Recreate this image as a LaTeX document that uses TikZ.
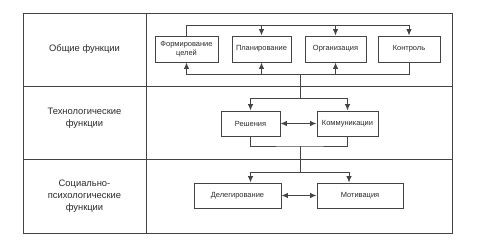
\documentclass[tikz,border=0pt]{standalone}
\usepackage{fontspec}
\setmainfont{Liberation Sans}
\usetikzlibrary{arrows.meta}
\definecolor{ln}{HTML}{444444}
\definecolor{tx}{HTML}{2A2A2A}
\tikzset{
  box/.style={draw=ln, line width=0.95bp, inner sep=0pt, align=center, text=tx,
    font=\fontsize{7.5}{9.3}\selectfont},
  lab/.style={align=center, text=tx, font=\fontsize{9.4}{11.8}\selectfont},
  conn/.style={draw=ln, line width=0.95bp},
  arr/.style={conn, -{Latex[length=6.5bp,width=5.5bp]}},
  arrtwo/.style={conn, {Latex[length=6.5bp,width=5.5bp]}-{Latex[length=6.5bp,width=5.5bp]}},
  frame/.style={draw=ln, line width=0.95bp}
}
\begin{document}
\begin{tikzpicture}[x=1bp,y=-1bp]
\useasboundingbox (0,0) rectangle (477,251);
% table frame
\draw[frame] (23,13) rectangle (452,233);
\draw[frame] (146,13) -- (146,233);
\draw[frame] (23,86) -- (452,86);
\draw[frame] (23,159) -- (452,159);
% left labels
\node[lab] (l1) at (84.5,49) {Общие функции};
\node[lab] (l2) at (84.5,118) {Технологические\\функции};
\node[lab] (l3) at (84.5,196) {Социально-\\психологические\\функции};
% top row
\node[box, minimum width=63bp, minimum height=26bp] (F) at (186.5,49) {Формирование\\целей};
\node[box, minimum width=59bp, minimum height=26bp] (P) at (261.5,49) {Планирование};
\node[box, minimum width=61bp, minimum height=26bp] (O) at (335.5,49) {Организация};
\node[box, minimum width=62bp, minimum height=26bp] (K) at (409,49) {Контроль};
% middle row
\node[box, minimum width=59bp, minimum height=25bp] (R) at (250.5,123.5) {Решения};
\node[box, minimum width=61bp, minimum height=25bp] (Km) at (347.5,123.5) {Коммуникации};
% bottom row
\node[box, minimum width=87bp, minimum height=25bp] (D) at (237.5,195.5) {Делегирование};
\node[box, minimum width=86bp, minimum height=25bp] (M) at (360,195.5) {Мотивация};
% helper coordinates
\coordinate (top) at (0,25);
\coordinate (bot) at (0,74);
\coordinate (j1) at (300,74);
\coordinate (j2) at (300,98);
\coordinate (j3) at (300,146);
\coordinate (j4) at (300,172);
% top loop
\draw[arr] (F.north) -- (F.north |- top) -| (K.north);
\draw[arr] (P.north |- top) -- (P.north);
\draw[arr] (O.north |- top) -- (O.north);
% bottom loop
\draw[arr] (K.south) -- (K.south |- bot) -| (F.south);
\draw[arr] (P.south |- bot) -- (P.south);
\draw[arr] (O.south |- bot) -- (O.south);
% to middle row
\draw[conn] (j1) -- (j2);
\draw[arr] (j2) -| (R.north);
\draw[arr] (j2) -| (Km.north);
\draw[arrtwo] (R.east) -- (Km.west);
% to bottom row
\draw[conn] (R.south) |- (j3) -| (Km.south);
\draw[conn] (j3) -- (j4);
\draw[arr] (j4) -| (R.south |- D.north);
\draw[arr] (j4) -| ([xshift=1.5bp]Km.south |- M.north);
\draw[arrtwo] (D.east) -- (M.west);
\end{tikzpicture}
\end{document}
